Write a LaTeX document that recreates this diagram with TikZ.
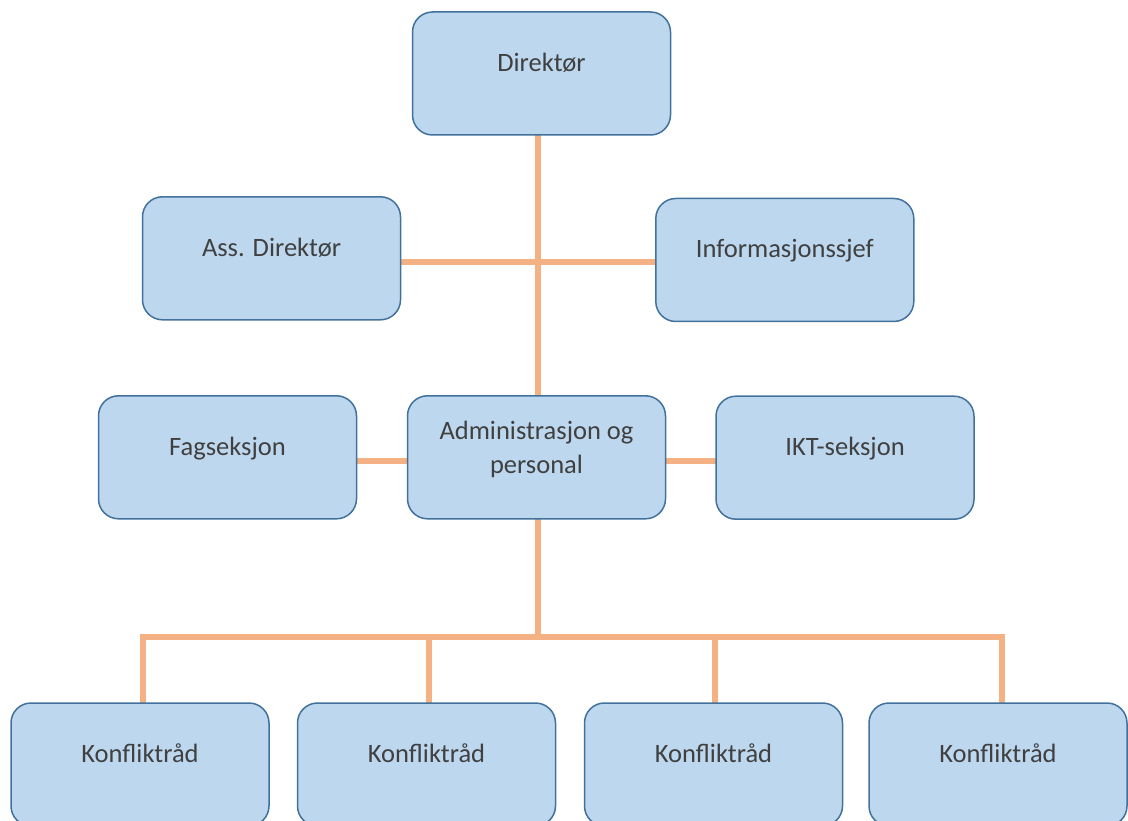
\documentclass[tikz,border=0pt]{standalone}
\usepackage{fontspec}
\setmainfont{Carlito}
\usetikzlibrary{backgrounds}
\definecolor{boxfill}{HTML}{BDD7EE}
\definecolor{boxline}{HTML}{41719C}
\definecolor{conncol}{HTML}{F4B183}
\definecolor{txt}{HTML}{404040}
\tikzset{
  orgbox/.style={draw=boxline, fill=boxfill, line width=1.5pt, rounded corners=20pt,
    minimum width=258pt, minimum height=123pt, inner sep=0pt, outer sep=0pt},
  labbase/.style={text=txt, font=\fontsize{26.5pt}{34pt}\selectfont, inner sep=0pt},
  lab/.style={labbase, text height=20pt, text depth=6pt, yshift=9pt},
  lab2/.style={labbase, align=center, yshift=8pt},
  conn/.style={draw=conncol, line width=6pt}
}
\begin{document}
\begin{tikzpicture}[x=1pt,y=-1pt]
\useasboundingbox (0,0) rectangle (1128,821);
\clip (0,0) rectangle (1128,821);
\node[orgbox, label={[lab]center:Direktør}] (dir) at (541.5,73.5) {};
\node[orgbox, label={[lab]center:Ass. Direktør}] (ass) at (271.5,258.3) {};
\node[orgbox, label={[lab]center:Informasjonssjef}] (info) at (784.8,260) {};
\node[orgbox, label={[lab]center:Fagseksjon}] (fag) at (227.5,457.3) {};
\node[orgbox, label={[lab2]center:Administrasjon og\\personal}] (adm) at (536.5,457.3) {};
\node[orgbox, label={[lab]center:IKT-seksjon}] (ikt) at (845,457.7) {};
\node[orgbox, label={[lab]center:Konfliktråd}] (k1) at (140,764.5) {};
\node[orgbox, label={[lab]center:Konfliktråd}] (k2) at (426.5,764.5) {};
\node[orgbox, label={[lab]center:Konfliktråd}] (k3) at (713.5,764.5) {};
\node[orgbox, label={[lab]center:Konfliktråd}] (k4) at (998,764.5) {};
\coordinate (j1) at (538,261.7);
\coordinate (m) at (538,461);
\coordinate (j2) at (538,637);
\coordinate (b1) at (143,637);
\coordinate (b2) at (429,637);
\coordinate (b3) at (715,637);
\coordinate (b4) at (1002,637);
\begin{pgfonlayer}{background}
\draw[conn] (dir.south -| j1) -- (adm.north -| j1);
\draw[conn] (ass.east |- j1) -- (info.west |- j1);
\draw[conn] (fag.east |- m) -- (adm.west |- m);
\draw[conn] (adm.east |- m) -- (ikt.west |- m);
\draw[conn] (adm.south -| j2) -- (j2);
\draw[conn] (k1.north -| b1) -- (b1) -- (b4) -- (k4.north -| b4);
\draw[conn] (b2) -- (k2.north -| b2);
\draw[conn] (b3) -- (k3.north -| b3);
\end{pgfonlayer}
\end{tikzpicture}
\end{document}
